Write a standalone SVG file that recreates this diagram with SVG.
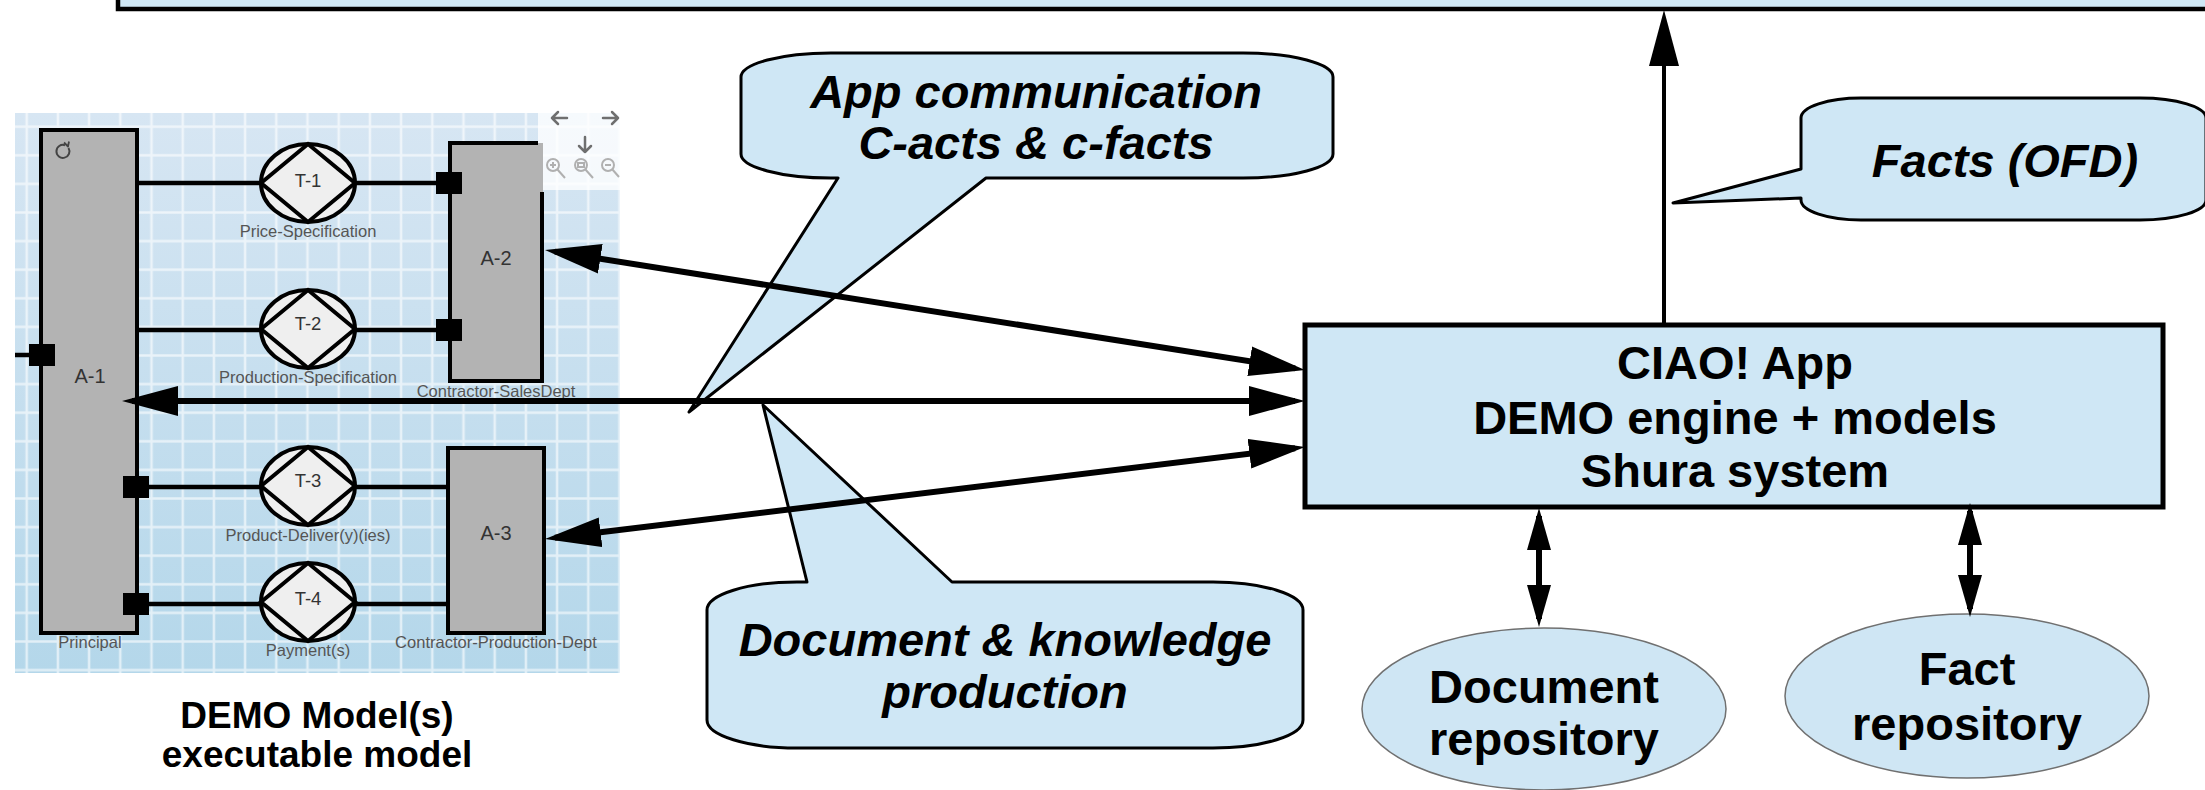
<svg xmlns="http://www.w3.org/2000/svg" width="2205" height="790" viewBox="0 0 2205 790">
<defs>
<style>
.big{font-family:"Liberation Sans",Arial,sans-serif;font-weight:bold;font-size:47px;text-anchor:middle;fill:#000}
.it{font-style:italic}
.cap{font-family:"Liberation Sans",Arial,sans-serif;font-weight:bold;font-size:37px;text-anchor:middle;fill:#000}
.callout{fill:#cfe7f5;stroke:#000;stroke-width:3;stroke-linejoin:round}
.box{fill:#cfe7f5;stroke:#000;stroke-width:5}
.repo{fill:#cfe6f4;stroke:#707070;stroke-width:1.5}
.conn{stroke:#000;fill:none;stroke-width:6}
.thin{stroke-width:4}
.actor{fill:#b3b3b3}
.border{fill:none;stroke:#000;stroke-width:4}
.tx{fill:#efefef;stroke:#000;stroke-width:4;stroke-linejoin:miter}
.lbl{font-family:"Liberation Sans",Arial,sans-serif;font-size:16.5px;fill:#555;text-anchor:middle}
.albl{font-family:"Liberation Sans",Arial,sans-serif;font-size:20px;fill:#333;text-anchor:middle}
.tlbl{font-family:"Liberation Sans",Arial,sans-serif;font-size:18.5px;fill:#333;text-anchor:middle}
.port{fill:#000}
.link{stroke:#000;stroke-width:4.5}
.icon{fill:none;stroke:#6f6f6f;stroke-width:2.5;stroke-linecap:round;stroke-linejoin:round}
.zicon{fill:none;stroke:#b0b0b0;stroke-width:2}
</style>
<linearGradient id="bg" x1="0" y1="0" x2="0" y2="1">
<stop offset="0" stop-color="#d7e6f3"/>
<stop offset="1" stop-color="#b4d7ea"/>
</linearGradient>
<pattern id="grid" patternUnits="userSpaceOnUse" x="11.1" y="112.4" width="31.2" height="28.6">
<path d="M0,14.3 H31.2 M15.6,0 V28.6" stroke="#ffffff" stroke-opacity="0.6" stroke-width="2.5" fill="none"/>
</pattern>
<marker id="ah" markerUnits="userSpaceOnUse" viewBox="0 0 56 30" markerWidth="56" markerHeight="30" refX="46" refY="15" orient="auto-start-reverse">
<path d="M0,0 L56,15 L0,30 Z" fill="#000"/>
</marker>
<marker id="ahs" markerUnits="userSpaceOnUse" viewBox="0 0 42 24" markerWidth="42" markerHeight="24" refX="34" refY="12" orient="auto-start-reverse">
<path d="M0,0 L42,12 L0,24 Z" fill="#000"/>
</marker>
</defs>

<rect width="2205" height="790" fill="#ffffff"/>

<!-- Top box (partly visible) -->
<g id="top-box">
<rect x="118" y="-30" width="2120" height="39" fill="#cfe7f5" stroke="#000" stroke-width="4.5"/>
</g>

<!-- DEMO model screenshot -->
<g id="demo-model">
<rect x="15" y="113" width="605" height="560" fill="url(#bg)"/>
<rect x="15" y="113" width="605" height="560" fill="url(#grid)"/>
<g id="controls">
<rect x="538" y="113" width="82" height="77" fill="#ffffff" fill-opacity="0.78"/>
<path class="icon" d="M552,118 H567 M558,112 L552,118 L558,124"/>
<path class="icon" d="M603,118 H618 M612,112 L618,118 L612,124"/>
<path class="icon" d="M585,137 V152 M579,146 L585,152 L591,146"/>
<circle class="zicon" cx="553" cy="165" r="6"/><path class="zicon" d="M557,169 L565,178 M550,165 H556 M553,162 V168"/>
<circle class="zicon" cx="581" cy="165" r="6"/><path class="zicon" d="M585,169 L593,178 M578,163 H584 V167 H578 Z"/>
<circle class="zicon" cx="608" cy="165" r="6"/><path class="zicon" d="M612,169 L619,177 M605,165 H611"/>
</g>

<g id="links">
<line class="link" x1="137" y1="183" x2="448" y2="183"/>
<line class="link" x1="137" y1="330" x2="448" y2="330"/>
<line class="link" x1="137" y1="487" x2="448" y2="487"/>
<line class="link" x1="137" y1="604" x2="448" y2="604"/>
<line class="link" x1="15" y1="355" x2="41" y2="355"/>
</g>

<g id="A-1">
<rect class="actor" x="41" y="130" width="96" height="503"/>
<rect class="border" x="41" y="130" width="96" height="503"/>
<path d="M68.5,148 A6.5,6.5 0 1 1 65,145.2" fill="none" stroke="#444" stroke-width="2"/>
<path d="M64,142.5 L68,146.5 L69,141.5" fill="none" stroke="#444" stroke-width="1.8" stroke-linejoin="round"/>
<text class="albl" x="90" y="383">A-1</text>
<text class="lbl" x="90" y="648">Principal</text>
<rect class="port" x="29" y="344" width="26" height="22"/>
<rect class="port" x="123" y="476" width="26" height="22"/>
<rect class="port" x="123" y="593" width="26" height="22"/>
</g>

<g id="A-2">
<rect class="actor" x="450" y="143" width="93" height="238"/>
<path class="border" d="M538,143 H450 V381 H542 V192"/>
<text class="albl" x="496" y="265">A-2</text>
<text class="lbl" x="496" y="397">Contractor-SalesDept</text>
<rect class="port" x="436" y="172" width="26" height="22"/>
<rect class="port" x="436" y="319" width="26" height="22"/>
</g>

<g id="A-3">
<rect class="actor" x="448" y="448" width="96" height="185"/>
<rect class="border" x="448" y="448" width="96" height="185"/>
<text class="albl" x="496" y="540">A-3</text>
<text class="lbl" x="496" y="648">Contractor-Production-Dept</text>
</g>

<g id="T-1">
<ellipse class="tx" cx="308" cy="183" rx="47" ry="39"/>
<polygon class="tx" points="261,183 308,144 355,183 308,222"/>
<text class="tlbl" x="308" y="187">T-1</text>
<text class="lbl" x="308" y="237">Price-Specification</text>
</g>
<g id="T-2">
<ellipse class="tx" cx="308" cy="329" rx="47" ry="39"/>
<polygon class="tx" points="261,329 308,290 355,329 308,368"/>
<text class="tlbl" x="308" y="330">T-2</text>
<text class="lbl" x="308" y="383">Production-Specification</text>
</g>
<g id="T-3">
<ellipse class="tx" cx="308" cy="486" rx="47" ry="39"/>
<polygon class="tx" points="261,486 308,447 355,486 308,525"/>
<text class="tlbl" x="308" y="487">T-3</text>
<text class="lbl" x="308" y="541">Product-Deliver(y)(ies)</text>
</g>
<g id="T-4">
<ellipse class="tx" cx="308" cy="602" rx="47" ry="39"/>
<polygon class="tx" points="261,602 308,563 355,602 308,641"/>
<text class="tlbl" x="308" y="605">T-4</text>
<text class="lbl" x="308" y="656">Payment(s)</text>
</g>
</g>

<g id="caption">
<text class="cap" x="317" y="728">DEMO Model(s)</text>
<text class="cap" x="317" y="767">executable model</text>
</g>

<!-- Callouts -->
<g id="callout-app-communication">
<path class="callout" d="M831,53 H1243 A90,24 0 0 1 1333,77 V154 A90,24 0 0 1 1243,178 H986 L689,412 L838,178 H831 A90,24 0 0 1 741,154 V77 A90,24 0 0 1 831,53 Z"/>
<text class="big it" x="1036" y="108">App communication</text>
<text class="big it" x="1036" y="159">C-acts &amp; c-facts</text>
</g>

<g id="callout-document-knowledge">
<path class="callout" d="M797,582 H807 L763,405 L952,582 H1213 A90,28 0 0 1 1303,610 V720 A90,28 0 0 1 1213,748 H797 A90,28 0 0 1 707,720 V610 A90,28 0 0 1 797,582 Z"/>
<text class="big it" x="1005" y="656">Document &amp; knowledge</text>
<text class="big it" x="1005" y="708">production</text>
</g>

<g id="callout-facts">
<path class="callout" d="M1861,98 H2140 A66,20 0 0 1 2206,118 V200 A66,20 0 0 1 2140,220 H1861 A60,20 0 0 1 1801,200 V198 L1673,203 L1801,169 V118 A60,20 0 0 1 1861,98 Z"/>
<text class="big it" x="2005" y="177">Facts (OFD)</text>
</g>

<!-- CIAO App -->
<g id="ciao-app">
<rect class="box" x="1305" y="325" width="858" height="182"/>
<text class="big" x="1735" y="379">CIAO! App</text>
<text class="big" x="1735" y="434">DEMO engine + models</text>
<text class="big" x="1735" y="487">Shura system</text>
</g>

<g id="document-repository">
<ellipse class="repo" cx="1544" cy="709" rx="182" ry="81"/>
<text class="big" x="1544" y="703">Document</text>
<text class="big" x="1544" y="755">repository</text>
</g>

<g id="fact-repository">
<ellipse class="repo" cx="1967" cy="696" rx="182" ry="82"/>
<text class="big" x="1967" y="685">Fact</text>
<text class="big" x="1967" y="740">repository</text>
</g>

<!-- Connectors -->
<g id="connectors">
<line class="conn" x1="554.9" y1="251.6" x2="1295.1" y2="368.4" marker-start="url(#ah)" marker-end="url(#ah)"/>
<line class="conn" x1="132" y1="401" x2="1295" y2="401" marker-start="url(#ah)" marker-end="url(#ah)"/>
<line class="conn" x1="554.9" y1="537.8" x2="1295.1" y2="448.2" marker-start="url(#ah)" marker-end="url(#ah)"/>
<line class="conn thin" x1="1664" y1="325" x2="1664" y2="20" marker-end="url(#ah)"/>
<line class="conn" x1="1539" y1="516" x2="1539" y2="619" marker-start="url(#ahs)" marker-end="url(#ahs)"/>
<line class="conn" x1="1970" y1="511" x2="1970" y2="609" marker-start="url(#ahs)" marker-end="url(#ahs)"/>
</g>
</svg>
